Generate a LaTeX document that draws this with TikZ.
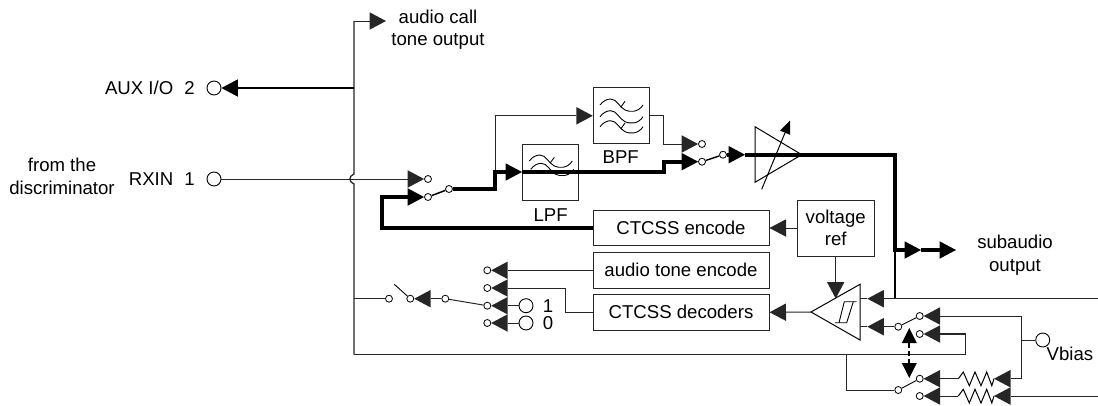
\documentclass[tikz,border=0pt]{standalone}
\usepackage{fontspec}
\setmainfont{Liberation Sans}
\usetikzlibrary{arrows.meta}
\tikzset{
  x=1pt,y=-1pt,
  wire/.style={line width=1pt,black!85,line join=miter},
  medwire/.style={line width=1.5pt,black},
  heavy/.style={line width=4pt,black,line join=miter},
  head/.style={-{Triangle[length=16.5pt,width=17.5pt,line width=0pt]}},
  contact/.style={circle,draw=black,fill=white,line width=0.8pt,minimum size=7pt,inner sep=0pt},
  terminal/.style={circle,draw=black,fill=white,line width=0.9pt,minimum size=14pt,inner sep=0pt},
  block/.style={draw=black!85,fill=white,line width=1pt,inner sep=0pt,align=center,font=\mainsize},
  lbl/.style={inner sep=0pt,align=center,font=\mainsize},
  sym/.style={line width=0.9pt,black},
  filterwave/.pic={\draw[sym] (0,0) .. controls (3,-4) and (7,-6) .. (10.5,-6) .. controls (17,-6) and (19,2) .. (25,5) .. controls (29,7) and (38,8) .. (43,0);},
  filtertick/.pic={\draw[sym] (20.7,2.3) -- (25,-3.7);},
  zigzag/.pic={\draw[sym,line width=1pt] (0,0) -- (5,-6.7) -- (11,7) -- (16.7,-6.7) -- (22.7,7) -- (28.4,-6.7) -- (33.5,7) -- (35.7,0);}
}
\newcommand{\mainsize}{\fontsize{18.6}{22.5}\selectfont}
\begin{document}
\begin{tikzpicture}
\useasboundingbox (0,0) rectangle (1098,405);

% ---- terminals and contacts
\node[terminal] (aux) at (214,88) {};
\node[terminal] (rxin) at (214,179) {};
\node[contact] (sa) at (428,179) {};
\node[contact] (sb) at (428,197) {};
\node[contact] (sc) at (449,189) {};
\node[contact] (ta) at (702,144) {};
\node[contact] (tb) at (702,161.7) {};
\node[contact] (tc) at (723,154.7) {};
\node[contact] (m1) at (487.3,270.3) {};
\node[contact] (m2) at (487.3,288) {};
\node[contact] (m3) at (487.3,305.7) {};
\node[contact] (m4) at (487.3,323) {};
\node[terminal] (one) at (526,305.7) {};
\node[terminal] (zero) at (526,323) {};
\node[contact] (k1) at (445.3,298.7) {};
\node[contact] (k2) at (410.3,298.7) {};
\node[contact] (k3) at (389,298.7) {};
\node[contact] (ua) at (919.7,316) {};
\node[contact] (ub) at (919.7,334) {};
\node[contact] (uc) at (898.3,326.7) {};
\node[contact] (va) at (919.7,378.7) {};
\node[contact] (vb) at (919.7,396) {};
\node[contact] (vc) at (898.3,390) {};
\node[terminal] (vbias) at (1042.7,340) {};

% ---- blocks
\node[block,minimum width=56pt,minimum height=56.3pt] (bpf) at (621.3,115.8) {};
\node[block,minimum width=56pt,minimum height=56pt] (lpf) at (550.5,172) {};
\node[block,minimum width=176pt,minimum height=35.4pt] (enc) at (681,228) {CTCSS encode};
\node[block,minimum width=176pt,minimum height=35.4pt] (ate) at (681,270.3) {audio tone encode};
\node[block,minimum width=176pt,minimum height=35.4pt] (dec) at (681,312.3) {CTCSS decoders};
\node[block,minimum width=77.3pt,minimum height=56pt] (vref) at (835.7,228) {voltage\\ref};

% ---- filter symbols
\pic at (529.3,161) {filterwave};
\pic at (529.3,161) {filtertick};
\pic at (530.7,169.3) {filterwave};
\pic at (600,105) {filterwave};
\pic at (600,105) {filtertick};
\pic at (600,116.7) {filterwave};
\pic at (600,126.7) {filterwave};
\pic at (600,126.7) {filtertick};

% ---- amplifier and comparator
\coordinate (ampout) at (801.7,154.7);
\coordinate (cmpout) at (811,312);
\coordinate (cmptop) at (835.7,298.5);
\coordinate (cmpa) at (860,298.7);
\coordinate (cmpb) at (860,326.7);
\coordinate (tipa) at (867.3,298.7);
\coordinate (tipb) at (867.3,326.7);
\draw[line width=1pt] (755,126.7) -- (755,182.3) -- (ampout) -- cycle;
\draw[line width=1pt,-{Triangle[length=13pt,width=11pt,line width=0pt]}] (761.7,189.3) -- (790,120.7);
\draw[line width=1pt] (cmpout) -- (860,284.3) -- (860,340) -- cycle;
\draw[sym] (856.7,301.7) -- (844.3,301.7) -- (839,322.7);
\draw[sym] (835,322.7) -- (846.7,322.7) -- (853.3,301.7);

% ---- left bus
\coordinate (bustop) at (354,21);
\coordinate (audioout) at (386,21);
\coordinate (busaux) at (354,88);
\coordinate (bump1) at (354,174);
\coordinate (bump2) at (354,184);
\coordinate (buskey) at (354,298.7);
\coordinate (busbot) at (354,354.7);
\coordinate (loopr) at (965.3,354.7);
\coordinate (loopu) at (965.3,334);
\coordinate (fbk) at (846,354.7);
\coordinate (fbl) at (846,390);
\draw[wire,line width=1.3pt] (busbot) -- (bump2) .. controls (348.5,182) and (348.5,176) .. (bump1) -- (bustop);
\draw[wire,head] (bustop) -- (audioout);
\draw[medwire,head] (busaux) -- (aux);
\draw[wire,head] (rxin) -- (sa);
\draw[wire] (buskey) -- (k3);
\draw[wire,line width=1.3pt,head] (busbot) -- (loopr) -- (loopu) -- (ub);
\draw[wire] (fbk) -- (fbl) -- (vc);

% ---- heavy signal path
\coordinate (h1) at (382,228);
\coordinate (h2) at (382,197);
\coordinate (h3) at (495,189);
\coordinate (h4) at (495,172);
\coordinate (h5) at (664,172);
\coordinate (h6) at (664,161.7);
\coordinate (h7) at (745,154.7);
\coordinate (h8) at (895,154.7);
\coordinate (h9) at (895,250);
\coordinate (h10) at (921,250);
\coordinate (subout) at (956,250);
\coordinate (bpfin) at (495,115.8);
\coordinate (bo1) at (663,115.8);
\coordinate (bo2) at (663,144);
\draw[wire,head] (h4) -- (bpfin) -- (bpf.west);
\draw[heavy,head] (enc.west) -- (h1) -- (h2) -- (sb);
\draw[medwire] (sb) -- (sc);
\draw[heavy,head] (sc) -- (h3) -- (h4) -- (lpf.west);
\draw[heavy,head] (lpf.west) -- (h5) -- (h6) -- (tb);
\draw[wire,head] (bpf.east) -- (bo1) -- (bo2) -- (ta);
\draw[medwire] (tb) -- (tc);
\draw[heavy,head] (tc) -- (h7);
\draw[heavy,head] (h7) -- (h8) -- (h9) -- (h10);
\draw[heavy,head] (h10) -- (subout);

% ---- middle section
\draw[wire,head] (vref.west |- enc) -- (enc.east);
\draw[wire,head] (vref.south) -- (cmptop);
\draw[wire,head] (cmpout) -- (dec.east);
\draw[wire,head] (ate.west) -- (m1);
\coordinate (d1) at (565,312.3);
\coordinate (d2) at (565,288);
\draw[wire,head] (dec.west) -- (d1) -- (d2) -- (m2);
\draw[wire,head] (one) -- (m3);
\draw[wire,head] (zero) -- (m4);
\draw[wire] (k1) -- (m3);
\draw[wire,head] (k1) -- (k2);
\coordinate (armk) at (394.3,284.3);
\draw[line width=0.9pt] (k2) -- (armk);

% ---- right section
\coordinate (rin) at (1098,298.7);
\coordinate (rj) at (895,298.7);
\coordinate (bus2) at (1021,316);
\coordinate (bus3) at (1021,378.7);
\coordinate (busv) at (1021,340);
\coordinate (low) at (1098,396);
\coordinate (r1l) at (958.3,378.7);
\coordinate (r1r) at (994,378.7);
\coordinate (r2l) at (958.3,396);
\coordinate (r2r) at (994,396);
\draw[medwire] (h9) -- (rj);
\draw[wire,head] (rin) -- (tipa);
\draw[wire] (tipa) -- (cmpa);
\draw[wire,head] (uc) -- (tipb);
\draw[wire] (tipb) -- (cmpb);
\draw[wire,head] (bus3) -- (bus2) -- (ua);
\draw[wire] (busv) -- (vbias);
\draw[wire,head] (bus2) -- (bus3) -- (r1r);
\draw[wire,head] (low) -- (r2r);
\draw[wire,head] (r1l) -- (va);
\draw[wire,head] (r2l) -- (vb);
\pic at (r1l) {zigzag};
\pic at (r2l) {zigzag};
\draw[line width=0.9pt] (uc) -- (ua);
\draw[line width=0.9pt] (vc) -- (va);
\coordinate (dashtop) at (909.3,328);
\coordinate (dashbot) at (909.3,378);
\draw[line width=1.8pt,dash pattern=on 5pt off 3pt,{Triangle[length=15pt,width=15pt,line width=0pt]}-{Triangle[length=15pt,width=15pt,line width=0pt]}] (dashtop) -- (dashbot);

% ---- labels
\node[lbl] (laudio) at (438,29.5) {audio call\\tone output};
\node[lbl,anchor=east] (laux) at (195,88) {AUX I/O\hspace{0.6em}2};
\node[lbl,anchor=east] (lrxin) at (195,179) {RXIN\hspace{0.6em}1};
\node[lbl] (ldisc) at (62,176.5) {from the\\discriminator};
\node[lbl] (lbpf) at (620.7,157) {BPF};
\node[lbl] (llpf) at (550.7,214.7) {LPF};
\node[lbl] (l1) at (548,305.7) {1};
\node[lbl] (l0) at (548,323) {0};
\node[lbl] (lsub) at (1015,255) {subaudio\\output};
\node[lbl] (lv) at (1070,354) {Vbias};
\end{tikzpicture}
\end{document}
